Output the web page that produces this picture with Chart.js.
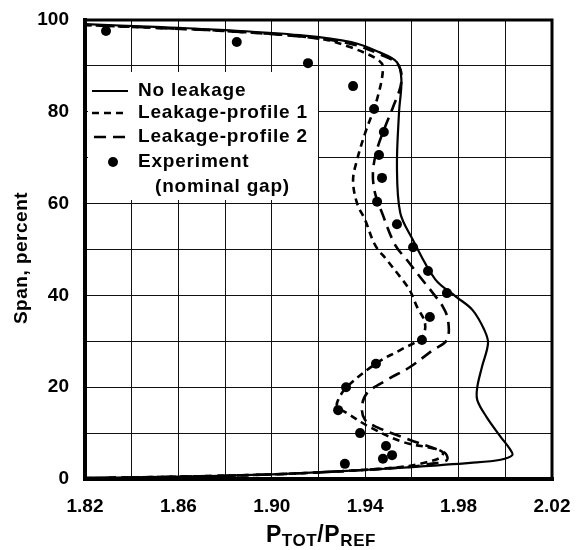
<!DOCTYPE html>
<html>
<head>
<meta charset="utf-8">
<style>
  html, body { margin: 0; padding: 0; background: #fff; }
  canvas { display: block; }
</style>
<script src="https://cdn.jsdelivr.net/npm/chart.js@4"></script>
</head>
<body>
<canvas id="c" width="581" height="550"></canvas>
<script>
// Axis grid and labels
const xGridValues = [1.82, 1.84, 1.86, 1.88, 1.90, 1.92, 1.94, 1.96, 1.98, 2.00, 2.02];
const xTickLabels = ['1.82', '1.86', '1.90', '1.94', '1.98', '2.02'];
const yGridValues = [0, 10, 20, 30, 40, 50, 60, 70, 80, 90, 100];
const yTickLabels = ['0', '20', '40', '60', '80', '100'];

// No leakage (solid)
const noLeakX = [1.82, 1.86, 1.90, 1.93, 1.96, 1.985, 1.998, 2.003, 2.002, 1.998, 1.992, 1.988, 1.988, 1.990, 1.9926, 1.991, 1.986, 1.979, 1.970, 1.960, 1.955, 1.9536, 1.9545, 1.9555, 1.9536, 1.946, 1.934, 1.912, 1.88, 1.85, 1.82];
const noLeakY = [0.2, 0.5, 1.0, 1.7, 2.6, 3.5, 4.2, 5.2, 6.5, 9.2, 13.5, 17.2, 20, 24.4, 29.6, 32.5, 36.8, 39.7, 43.5, 52.5, 58, 68, 80, 87, 90.8, 93, 95.2, 96.7, 97.8, 98.5, 99.1];

// Leakage-profile 1 (short dashes)
const prof1X = [1.82, 1.86, 1.90, 1.93, 1.955, 1.965, 1.972, 1.9733, 1.9705, 1.956, 1.942, 1.932, 1.928, 1.9284, 1.932, 1.945, 1.955, 1.9643, 1.9656, 1.9622, 1.959, 1.955, 1.9493, 1.9442, 1.940, 1.9365, 1.9348, 1.9365, 1.940, 1.945, 1.9476, 1.945, 1.9335, 1.92, 1.88, 1.85, 1.82];
const prof1Y = [0.2, 0.5, 1.0, 1.7, 2.6, 3.5, 4.6, 5.7, 6.5, 8.1, 11.3, 14.4, 15.8, 17.2, 20, 25.3, 28.1, 30.9, 34, 37.5, 41.2, 44, 47.7, 51, 56.4, 60.1, 65.1, 69.5, 75.4, 82.6, 89.8, 91.5, 94.1, 96.0, 97.6, 98.3, 98.9];

// Leakage-profile 2 (long dashes)
const prof2X = [1.82, 1.86, 1.90, 1.93, 1.96, 1.968, 1.975, 1.9745, 1.971, 1.9592, 1.945, 1.9399, 1.9386, 1.9408, 1.9493, 1.9592, 1.969, 1.975, 1.9755, 1.9733, 1.969, 1.9635, 1.9579, 1.9528, 1.9472, 1.9442, 1.9433, 1.945, 1.9485, 1.9519, 1.9555, 1.954, 1.946, 1.934, 1.912, 1.88, 1.85, 1.82];
const prof2Y = [0.2, 0.5, 1.0, 1.7, 2.7, 3.3, 4.1, 5.5, 6.4, 8.5, 11.3, 12.9, 15.7, 18.7, 21.6, 24.4, 28.1, 30.3, 34.6, 37.5, 40.5, 44, 47.7, 51, 58, 62.3, 66.7, 71.7, 76.7, 81, 86.5, 90.3, 92.6, 94.8, 96.4, 97.6, 98.3, 98.9];

// Experiment (nominal gap)
const expX = [1.829, 1.885, 1.9155, 1.9348, 1.9438, 1.948, 1.9459, 1.9472, 1.9451, 1.9536, 1.9605, 1.9669, 1.975, 1.9677, 1.9643, 1.9446, 1.9318, 1.9284, 1.9378, 1.9489, 1.9515, 1.9476, 1.9313];
const expY = [97.6, 95.2, 90.6, 85.6, 80.6, 75.6, 70.6, 65.6, 60.4, 55.5, 50.5, 45.3, 40.5, 35.3, 30.3, 25.1, 20.0, 15.0, 10.0, 7.2, 5.2, 4.4, 3.3];

const legendLabels = ['No leakage', 'Leakage-profile 1', 'Leakage-profile 2', 'Experiment', '(nominal gap)'];

const toPoints = (xs, ys) => xs.map((x, i) => ({ x: x, y: ys[i] }));
const FONT = '"Liberation Sans", Arial, sans-serif';

// Frame, axis titles and the in-plot legend
const decor = {
  id: 'decor',
  beforeDatasetsDraw(chart) {
    const ctx = chart.ctx;
    // white panel behind the legend
    ctx.save();
    ctx.fillStyle = '#fff';
    ctx.fillRect(88, 72, 230, 128);
    ctx.restore();
  },
  afterDraw(chart) {
    const ctx = chart.ctx;
    const a = chart.chartArea;
    ctx.save();
    ctx.strokeStyle = '#000';
    ctx.lineCap = 'square';
    // frame
    ctx.lineWidth = 3;
    ctx.beginPath(); ctx.moveTo(a.left, a.top); ctx.lineTo(a.right, a.top); ctx.lineTo(a.right, a.bottom); ctx.stroke();
    ctx.lineWidth = 4;
    ctx.beginPath(); ctx.moveTo(a.left, a.top); ctx.lineTo(a.left, a.bottom); ctx.lineTo(a.right, a.bottom); ctx.stroke();

    // legend
    ctx.fillStyle = '#000';
    ctx.font = 'bold 19px ' + FONT;
    ctx.letterSpacing = '0.8px';
    ctx.textBaseline = 'middle';
    ctx.textAlign = 'left';
    const rows = [91, 113, 137, 162, 187];
    const tx = 138;
    const x0 = 92, x1 = 128;
    ctx.lineWidth = 2.2;
    ctx.lineCap = 'butt';
    ctx.setLineDash([]);
    ctx.beginPath(); ctx.moveTo(x0, rows[0]); ctx.lineTo(x1, rows[0]); ctx.stroke();
    ctx.lineWidth = 2.6;
    ctx.setLineDash([7, 5]);
    ctx.beginPath(); ctx.moveTo(x0, rows[1]); ctx.lineTo(x1, rows[1]); ctx.stroke();
    ctx.setLineDash([12, 7]);
    ctx.beginPath(); ctx.moveTo(x0 + 2, rows[2]); ctx.lineTo(x1, rows[2]); ctx.stroke();
    ctx.setLineDash([]);
    ctx.beginPath(); ctx.arc(113, rows[3], 5, 0, Math.PI * 2); ctx.fill();
    ctx.fillText(legendLabels[0], tx, rows[0]);
    ctx.fillText(legendLabels[1], tx, rows[1]);
    ctx.fillText(legendLabels[2], tx, rows[2]);
    ctx.fillText(legendLabels[3], tx, rows[3]);
    ctx.fillText(legendLabels[4], tx + 17, rows[4]);

    // y axis title
    ctx.save();
    ctx.translate(22, 258);
    ctx.rotate(-Math.PI / 2);
    ctx.textAlign = 'center';
    ctx.font = 'bold 19px ' + FONT;
    ctx.letterSpacing = '0.5px';
    ctx.fillText('Span, percent', 0, 0);
    ctx.restore();

    // x axis title: P_TOT / P_REF
    ctx.letterSpacing = '0.6px';
    ctx.textBaseline = 'alphabetic';
    const big = 'bold 23px ' + FONT;
    const small = 'bold 17px ' + FONT;
    const parts = [['P', big, 0], ['TOT', small, 4], ['/P', big, 0], ['REF', small, 4]];
    let w = 0;
    parts.forEach(p => { ctx.font = p[1]; w += ctx.measureText(p[0]).width; });
    let x = 321 - w / 2;
    const base = 542;
    parts.forEach(p => {
      ctx.font = p[1];
      ctx.fillText(p[0], x, base + p[2]);
      x += ctx.measureText(p[0]).width;
    });
    ctx.restore();
  }
};

const gridStyle = {
  color: '#111',
  lineWidth: 1,
  drawTicks: false
};

new Chart(document.getElementById('c'), {
  type: 'scatter',
  data: {
    datasets: [
      {
        label: legendLabels[0],
        data: toPoints(noLeakX, noLeakY),
        showLine: true,
        borderColor: '#000',
        borderWidth: 2.2,
        pointRadius: 0,
        tension: 0.35,
        order: 3
      },
      {
        label: legendLabels[1],
        data: toPoints(prof1X, prof1Y),
        showLine: true,
        borderColor: '#000',
        borderWidth: 2.6,
        borderDash: [7, 5],
        pointRadius: 0,
        tension: 0.35,
        order: 2
      },
      {
        label: legendLabels[2],
        data: toPoints(prof2X, prof2Y),
        showLine: true,
        borderColor: '#000',
        borderWidth: 2.6,
        borderDash: [12, 7],
        pointRadius: 0,
        tension: 0.35,
        order: 1
      },
      {
        label: legendLabels[3],
        data: toPoints(expX, expY),
        showLine: false,
        backgroundColor: '#000',
        borderColor: '#000',
        pointRadius: 5,
        pointBorderWidth: 0,
        order: 0
      }
    ]
  },
  options: {
    responsive: false,
    animation: false,
    events: [],
    clip: false,
    layout: { padding: { left: 0, top: 20, right: 29, bottom: 0 } },
    plugins: {
      legend: { display: false },
      tooltip: { enabled: false }
    },
    scales: {
      x: {
        type: 'linear',
        min: 1.82,
        max: 2.02,
        afterBuildTicks: s => { s.ticks = xGridValues.map(v => ({ value: v })); },
        afterFit: s => { s.height = 71; s.paddingLeft = 0; s.paddingRight = 0; },
        border: { display: false },
        grid: gridStyle,
        ticks: {
          padding: 16,
          color: '#000',
          font: { family: FONT, size: 19, weight: 'bold' },
          maxRotation: 0,
          autoSkip: false,
          callback: v => {
            const s = Number(v).toFixed(2);
            return xTickLabels.includes(s) ? s : '';
          }
        }
      },
      y: {
        type: 'linear',
        min: 0,
        max: 100,
        afterBuildTicks: s => { s.ticks = yGridValues.map(v => ({ value: v })); },
        afterFit: s => { s.width = 85; s.paddingTop = 0; s.paddingBottom = 0; },
        border: { display: false },
        grid: gridStyle,
        ticks: {
          padding: 16,
          color: '#000',
          font: { family: FONT, size: 19, weight: 'bold' },
          autoSkip: false,
          callback: v => {
            const s = String(Math.round(v));
            return yTickLabels.includes(s) ? s : '';
          }
        }
      }
    }
  },
  plugins: [decor]
});
</script>
</body>
</html>
